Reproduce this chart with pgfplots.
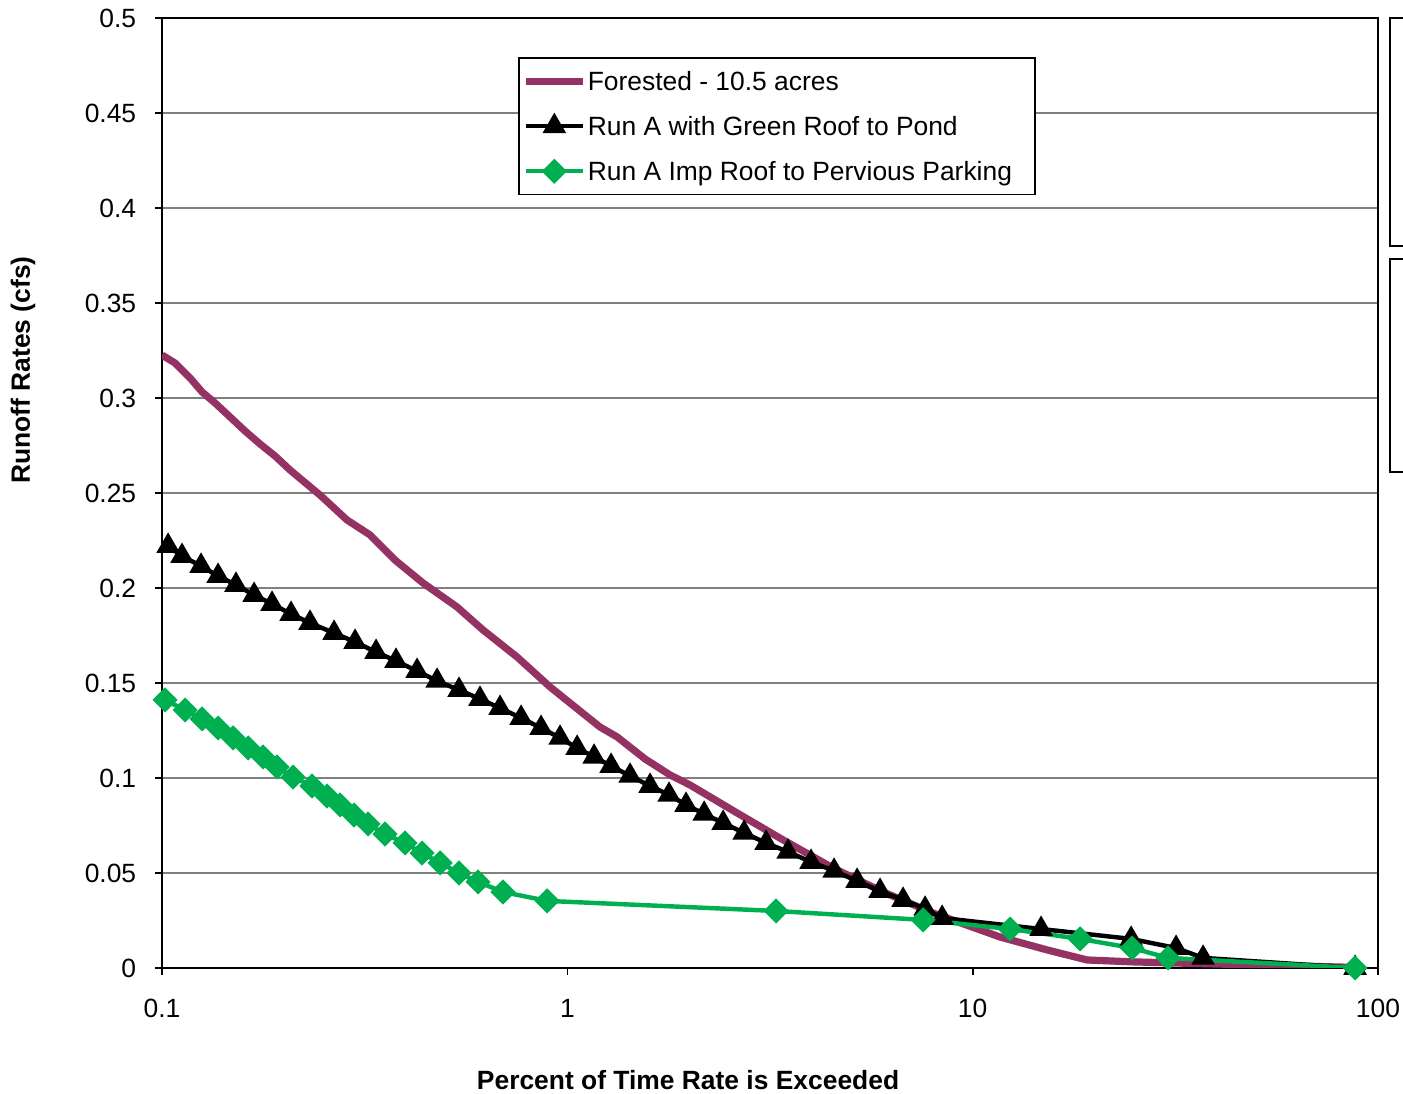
\documentclass[border=0pt]{standalone}
\usepackage{fontspec}
\setmainfont{Liberation Sans}
\usepackage{pgfplots}
\pgfplotsset{compat=1.18}
\definecolor{forest}{HTML}{953264}
\definecolor{xlgreen}{HTML}{00B050}
\begin{document}
\begin{tikzpicture}
\begin{axis}[
  at={(0,0)}, anchor=south west,
  scale only axis, width=437.4pt, height=341.7pt,
  xmode=log, xmin=0.1, xmax=100, ymin=0, ymax=0.5,
  xtick={0.1,1,10,100}, xticklabels={0.1,1,10,100},
  minor xtick={}, 
  ytick={0,0.05,0.1,0.15,0.2,0.25,0.3,0.35,0.4,0.45,0.5},
  yticklabels={0,0.05,0.1,0.15,0.2,0.25,0.3,0.35,0.4,0.45,0.5},
  ymajorgrids, major grid style={draw=black!50, line width=0.5pt},
  tick align=outside, major tick length=2.5pt, minor tick length=0pt,
  xtick pos=left, ytick pos=left,
  axis line style={line width=0.9pt},
  tick style={black, line width=0.6pt},
  tick label style={font=\fontsize{9.5}{11.4}\selectfont},
  yticklabel style={xshift=-3.3pt},
  xticklabel style={yshift=-5.3pt},
  xlabel={Percent of Time Rate is Exceeded},
  ylabel={Runoff Rates (cfs)},
  label style={font=\fontsize{9.5}{11.4}\selectfont\bfseries},
  xlabel style={at={(axis description cs:0.4326,-0.1179)}, anchor=center},
  ylabel style={at={(axis description cs:-0.1143,0.6295)}, anchor=center},
  legend style={at={(0.2928,0.959)}, anchor=north west, draw=black, line width=0.6pt,
    font=\fontsize{9.5}{11.4}\selectfont, inner xsep=1.2pt, inner ysep=4pt, row sep=7.4pt,
    nodes={inner ysep=1pt, inner xsep=0.5pt, text height=6.8pt, text depth=0pt}, cells={anchor=west}},
  legend cell align=left,
  legend image code/.code={\draw[mark repeat=2,mark phase=2] plot coordinates {(0cm,0cm) (0.36cm,0cm) (0.72cm,0cm)};},
]
\addplot[forest, line width=2.6pt, line join=round] coordinates {
(0.1,0.3226) (0.1077,0.3184) (0.1173,0.3105) (0.1255,0.3032) (0.1351,0.2974)
(0.1472,0.2900) (0.1603,0.2826) (0.1745,0.2758) (0.1900,0.2695) (0.2069,0.2621)
(0.2454,0.2489) (0.2860,0.2358) (0.3261,0.2279) (0.3757,0.2147) (0.4406,0.2026)
(0.5344,0.1900) (0.6194,0.1779) (0.7515,0.1637) (0.9066,0.1479) (1.204,0.1268)
(1.327,0.1216) (1.555,0.1100) (1.792,0.1016) (2.008,0.0963) (2.622,0.0816)
(3.406,0.0674) (4.524,0.0526) (6.010,0.0400) (7.986,0.0289) (11.68,0.0163)
(15.26,0.0095) (19.16,0.0042) (24.88,0.0032) (31.94,0.0026) (87.3,0.0003)
};
\addlegendentry{Forested - 10.5 acres}
\addplot[black, line width=1.6pt, mark=triangle*, mark size=3.3pt] coordinates {
(0.1035,0.2221) (0.1120,0.2168) (0.1248,0.2116) (0.1375,0.2063) (0.1522,0.2016)
(0.1687,0.1963) (0.1868,0.1916) (0.2081,0.1863) (0.2318,0.1816) (0.2657,0.1763)
(0.2994,0.1716) (0.3373,0.1663) (0.3778,0.1616) (0.4258,0.1563) (0.4770,0.1511)
(0.5404,0.1463) (0.6088,0.1416) (0.6823,0.1368) (0.7690,0.1316) (0.8613,0.1263)
(0.9594,0.1211) (1.057,0.1158) (1.164,0.1111) (1.282,0.1063) (1.428,0.1011)
(1.600,0.0958) (1.782,0.0911) (1.963,0.0858) (2.175,0.0811) (2.423,0.0763)
(2.729,0.0711) (3.093,0.0658) (3.504,0.0611) (3.993,0.0558) (4.550,0.0511)
(5.186,0.0458) (5.909,0.0405) (6.734,0.0358) (7.632,0.0311) (8.407,0.0263)
(14.75,0.0205) (24.60,0.0153) (31.76,0.0105) (37.03,0.0053) (87.8,0)
};
\addlegendentry{Run A with Green Roof to Pond}
\addplot[xlgreen, line width=1.6pt, mark=square*, mark size=2.4pt, mark options={rotate=45}] coordinates {
(0.1017,0.1411) (0.1140,0.1358) (0.1255,0.1311) (0.1375,0.1263) (0.1497,0.1211)
(0.1631,0.1158) (0.1775,0.1111) (0.1922,0.1058) (0.2105,0.1005) (0.2344,0.0958)
(0.2554,0.0905) (0.2749,0.0858) (0.2977,0.0805) (0.3224,0.0758) (0.3550,0.0705)
(0.3977,0.0658) (0.4381,0.0605) (0.4852,0.0553) (0.5404,0.0500) (0.6021,0.0453)
(0.6939,0.0400) (0.8911,0.0353) (3.273,0.0300) (7.545,0.0253) (12.37,0.0205)
(18.41,0.0153) (24.74,0.0105) (30.34,0.0053) (87.8,0)
};
\addlegendentry{Run A Imp Roof to Pervious Parking\kern6.5pt}
\end{axis}
\draw[line width=0.7pt] (470pt,259.7pt) -- (441.7pt,259.7pt) -- (441.7pt,341.7pt) -- (470pt,341.7pt);
\draw[line width=0.7pt] (470pt,255.0pt) -- (441.7pt,255.0pt) -- (441.7pt,178.4pt) -- (470pt,178.4pt);
\pgfresetboundingbox
\useasboundingbox (-58.3pt,-45.3pt) rectangle (446.4pt,348.2pt);
\end{tikzpicture}
\end{document}
